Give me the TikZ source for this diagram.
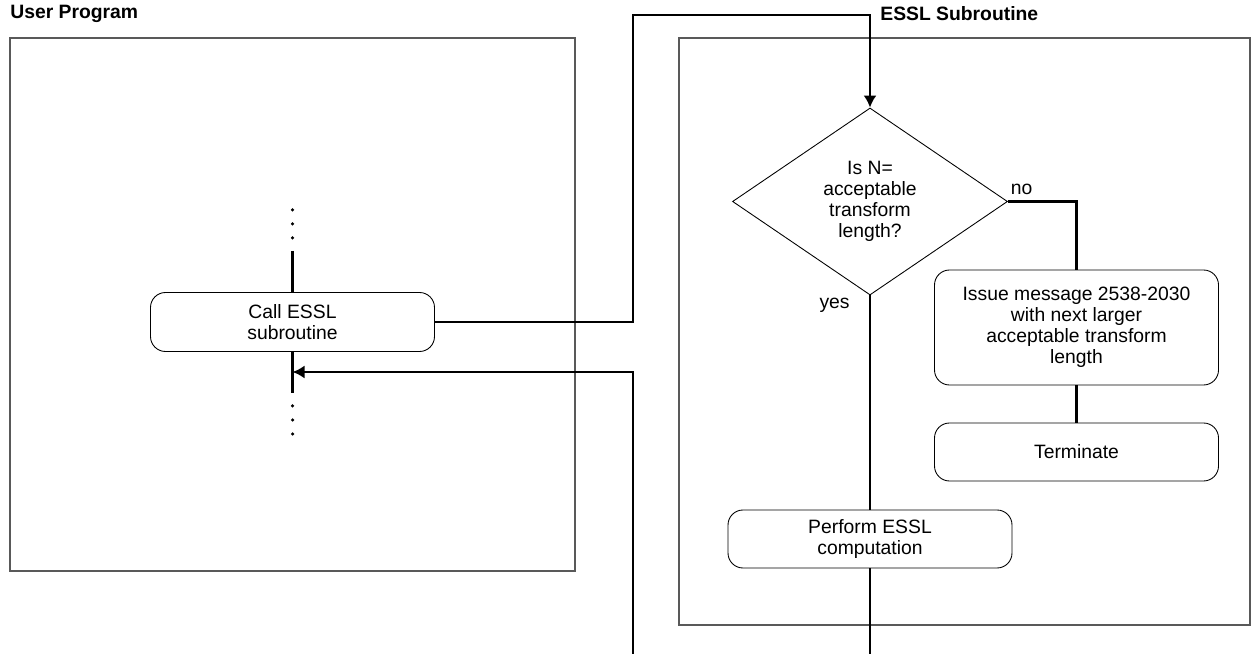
\documentclass[tikz,border=0pt]{standalone}
\usepackage{fontspec}
\setmainfont{Liberation Sans}
\usepackage{tikz}
\usetikzlibrary{shapes.geometric}
\usetikzlibrary{arrows.meta}
\usetikzlibrary{positioning}
\tikzstyle{step_box}=[draw=black, line width=0.5pt, rounded corners=0.3cm, align=center, inner sep=0pt, minimum width=5.68cm, font=\fontsize{11}{12}\selectfont]
\tikzstyle{test_box}=[draw=black, line width=0.5pt, diamond, aspect=1.47, align=center, inner sep=0pt, minimum width=5.5cm, minimum height=3.74cm, font=\fontsize{11}{12}\selectfont]
\tikzstyle{frame}=[draw=black!65, line width=0.8pt]
\tikzstyle{flow}=[draw=black, line width=1.2pt]
\tikzstyle{flow_arrow}=[flow, -{Latex[length=2.4mm, width=2.6mm]}]
\tikzstyle{title}=[font=\fontsize{11}{12}\selectfont\bfseries, anchor=west, inner sep=0pt]
\tikzstyle{answer}=[font=\fontsize{11}{12}\selectfont, inner sep=0pt]

\begin{document}
\begin{tikzpicture}
\useasboundingbox (0,0) rectangle (25.06,13.08);
% the two program frames
\draw[frame] (0.2,1.66) rectangle (11.5,12.32);
\draw[frame] (13.58,0.58) rectangle (25.0,12.32);
\node[title] (user) at (0.2,12.8) {User Program};
\node[title] (essl) at (17.6,12.8) {ESSL Subroutine};
% user program
\node[step_box, minimum height=1.18cm] (call) at (5.85,6.64) {Call ESSL\\subroutine};
\coordinate (calltop) at (5.85,8.06);
\coordinate (callbot) at (5.85,5.22);
\coordinate (back) at (5.85,5.64);
\foreach \y in {8.88,8.6,8.32,4.96,4.68,4.4}
  \fill (5.85,\y) circle (0.035);
\draw[flow](calltop) -- (call.north);
\draw[flow](call.south) -- (callbot);
% ESSL subroutine
\node[test_box] (test) at (17.4,9.05) {Is N=\\acceptable\\transform\\length?};
\node[step_box, minimum height=2.3cm] (issue) at (21.53,6.53) {Issue message 2538-2030\\with next larger\\acceptable transform\\length};
\node[step_box, minimum height=1.16cm] (term) at (21.53,4.04) {Terminate};
\node[step_box, minimum height=1.16cm] (perform) at (17.4,2.3) {Perform ESSL\\computation};
\node[answer, anchor=south west] (no) at ([xshift=0.05cm, yshift=0.12cm]test.east) {no};
\node[answer, anchor=north east] (yes) at ([xshift=-0.4cm, yshift=-0.05cm]test.south) {yes};
\coordinate (up) at (12.66,12.78);
\coordinate (retfoot) at (12.66,0);
\coordinate (endfoot) at (17.4,0);
\draw[flow](test.east) -| (issue.north);
\draw[flow](issue.south) -- (term.north);
\draw[flow](test.south) -- (perform.north);
\draw[flow](perform.south) -- (endfoot);
% call and return
\draw[flow_arrow](call.east) -| (up) -| (test.north);
\draw[flow_arrow](retfoot) |- (back);
\end{tikzpicture}
\end{document}
